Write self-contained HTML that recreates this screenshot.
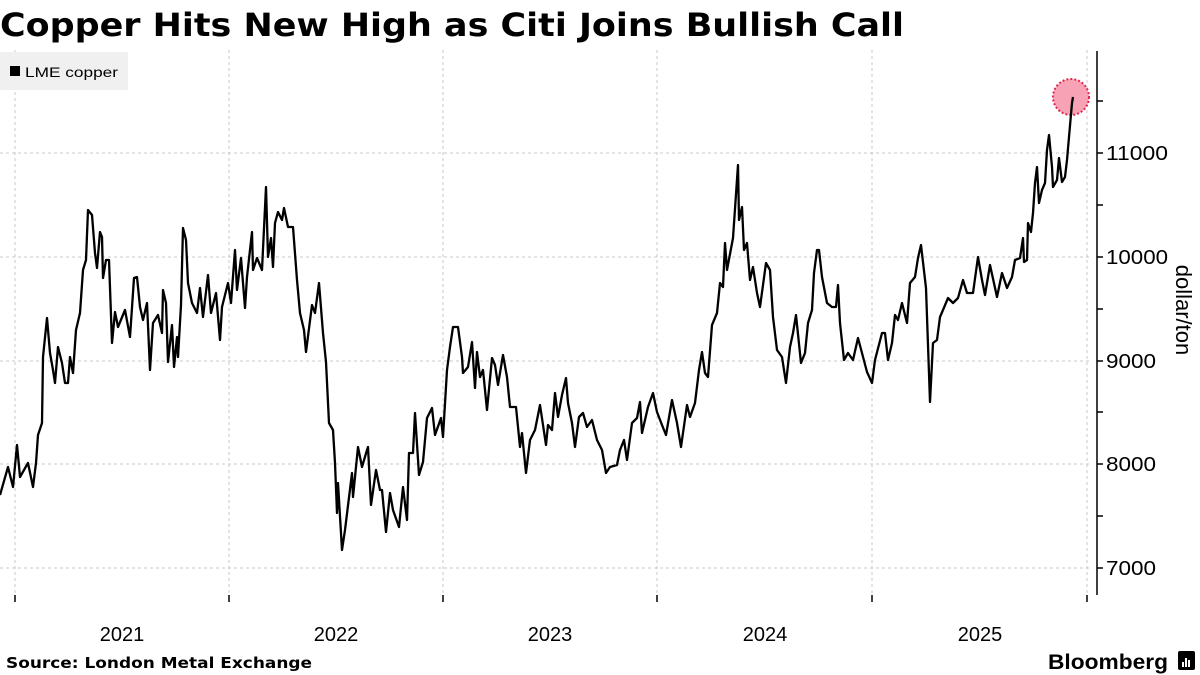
<!DOCTYPE html>
<html><head><meta charset="utf-8"><style>
body{margin:0;background:#fff;width:1200px;height:675px;overflow:hidden;font-family:"Liberation Sans",sans-serif}
</style></head><body>
<svg width="1200" height="675" xmlns="http://www.w3.org/2000/svg" style="position:absolute;left:0;top:0">
<text x="0" y="36" font-family="DejaVu Sans" font-weight="bold" font-size="32" fill="#000" textLength="904" lengthAdjust="spacingAndGlyphs">Copper Hits New High as Citi Joins Bullish Call</text>
<g stroke="#c8c8c8" stroke-dasharray="3,3" stroke-width="1">
<line x1="0" x2="1092" y1="153" y2="153"/><line x1="0" x2="1092" y1="257" y2="257"/><line x1="0" x2="1092" y1="361" y2="361"/><line x1="0" x2="1092" y1="464" y2="464"/><line x1="0" x2="1092" y1="568" y2="568"/>
<line x1="15" x2="15" y1="50" y2="595"/><line x1="229" x2="229" y1="50" y2="595"/><line x1="443" x2="443" y1="50" y2="595"/><line x1="657" x2="657" y1="50" y2="595"/><line x1="872" x2="872" y1="50" y2="595"/><line x1="1087" x2="1087" y1="50" y2="595"/>
</g>
<line x1="1097" x2="1097" y1="51" y2="595" stroke="#000" stroke-width="1.5"/>
<g stroke="#000" stroke-width="1.5">
<line x1="1097" x2="1103" y1="101" y2="101"/><line x1="1097" x2="1103" y1="153" y2="153"/><line x1="1097" x2="1103" y1="205" y2="205"/><line x1="1097" x2="1103" y1="257" y2="257"/><line x1="1097" x2="1103" y1="309" y2="309"/><line x1="1097" x2="1103" y1="361" y2="361"/><line x1="1097" x2="1103" y1="412" y2="412"/><line x1="1097" x2="1103" y1="464" y2="464"/><line x1="1097" x2="1103" y1="516" y2="516"/><line x1="1097" x2="1103" y1="568" y2="568"/>
<line x1="15" x2="15" y1="595" y2="602"/><line x1="229" x2="229" y1="595" y2="602"/><line x1="443" x2="443" y1="595" y2="602"/><line x1="657" x2="657" y1="595" y2="602"/><line x1="872" x2="872" y1="595" y2="602"/><line x1="1087" x2="1087" y1="595" y2="602"/>
</g>
<g font-family="Liberation Sans" font-size="20" fill="#000">
<text x="1106" y="160" textLength="62" lengthAdjust="spacingAndGlyphs">11000</text><text x="1106" y="264" textLength="62" lengthAdjust="spacingAndGlyphs">10000</text><text x="1106" y="368" textLength="50" lengthAdjust="spacingAndGlyphs">9000</text><text x="1106" y="471" textLength="50" lengthAdjust="spacingAndGlyphs">8000</text><text x="1106" y="575" textLength="50" lengthAdjust="spacingAndGlyphs">7000</text>
<text x="122" y="641" text-anchor="middle">2021</text><text x="336" y="641" text-anchor="middle">2022</text><text x="550" y="641" text-anchor="middle">2023</text><text x="765" y="641" text-anchor="middle">2024</text><text x="980" y="641" text-anchor="middle">2025</text>
</g>
<text transform="translate(1176,310) rotate(90)" text-anchor="middle" font-family="Liberation Sans" font-size="22" fill="#000">dollar/ton</text>
<rect x="0" y="52" width="128" height="38" fill="#f0f0f0"/>
<rect x="10" y="66" width="10" height="10" fill="#000"/>
<text x="25" y="77" font-family="Liberation Sans" font-size="14" fill="#000" textLength="93" lengthAdjust="spacingAndGlyphs">LME copper</text>
<circle cx="1071" cy="97" r="18" fill="#f7a3b5" stroke="#e0264f" stroke-width="2" stroke-dasharray="2,2"/>
<polyline fill="none" stroke="#000" stroke-width="2.3" stroke-linejoin="round" points="0,495 8,467 13,487 17,445 20,477 28,463 33,487 36,463 38,435 42,423 43,357 47,318 50,353 53,370 55,383 58,347 62,363 65,383 68,383 70,357 73,373 76,330 80,313 83,270 86,260 88,210 92,215 95,253 97,268 100,232 102,237 103,278 106,260 109,260 112,343 115,312 118,327 125,310 130,337 134,278 137,277 140,307 143,320 147,303 150,370 153,323 158,315 162,333 163,290 166,303 168,362 172,325 174,367 177,337 178,357 181,305 183,228 186,240 188,283 192,303 197,313 200,288 203,317 208,275 211,313 216,293 220,340 222,307 228,283 231,303 235,250 237,290 241,258 245,308 247,277 252,232 253,270 257,258 262,270 266,187 268,257 271,238 273,267 275,223 278,212 282,220 284,208 288,227 293,227 297,280 300,313 304,330 306,352 312,305 315,313 319,283 323,333 326,362 329,423 333,430 335,463 337,513 338,483 342,550 345,530 352,473 353,497 358,447 362,467 367,450 368,447 371,505 376,470 380,490 382,490 386,532 390,493 393,510 399,527 403,487 407,520 409,453 413,453 415,413 419,475 423,462 427,418 432,408 435,435 441,418 443,437 447,370 450,347 453,327 458,327 462,357 463,373 468,367 472,342 475,388 477,352 480,377 483,370 487,410 492,358 495,365 498,385 503,355 507,377 510,407 516,407 520,447 522,433 526,473 530,440 535,430 540,405 546,445 548,425 552,430 555,393 558,417 562,395 566,378 568,403 572,423 575,447 579,417 583,413 587,427 592,420 597,440 602,450 606,473 610,467 617,465 620,450 624,440 627,460 632,423 637,418 640,402 642,433 648,407 653,393 657,412 662,425 666,435 672,400 677,423 681,447 687,405 690,417 695,403 699,370 702,352 705,373 708,377 712,325 717,313 720,283 723,287 725,243 727,270 733,238 738,165 739,220 742,207 744,250 747,243 750,280 753,267 757,293 760,307 766,263 770,270 773,317 777,350 782,357 786,383 790,347 793,333 796,315 801,363 805,353 808,323 812,310 814,273 817,250 819,250 822,277 827,303 832,307 836,307 838,285 840,323 844,360 848,353 853,360 858,338 862,353 867,372 872,383 875,360 882,333 885,333 888,360 892,343 895,315 898,320 902,303 907,323 910,283 915,277 918,258 921,245 926,288 930,402 933,343 937,340 940,317 943,310 948,298 953,303 958,298 963,280 967,293 973,293 978,257 982,280 985,295 990,265 997,297 1002,273 1007,288 1012,277 1015,260 1020,258 1023,238 1024,262 1027,260 1028,223 1031,232 1033,213 1035,183 1037,167 1039,203 1042,190 1045,183 1047,150 1049,135 1052,167 1053,187 1057,180 1059,158 1062,182 1065,177 1067,160 1069,137 1072,103 1073,97"/>
<text x="6" y="668" font-family="DejaVu Sans" font-weight="bold" font-size="15" fill="#000" textLength="306" lengthAdjust="spacingAndGlyphs">Source: London Metal Exchange</text>
<text x="1048" y="669" font-family="Liberation Sans" font-weight="bold" font-size="21" fill="#000" textLength="120" lengthAdjust="spacingAndGlyphs">Bloomberg</text>
<rect x="1178" y="651" width="17" height="19" rx="2" fill="#000"/>
<rect x="1182" y="662" width="2" height="5" fill="#fff"/><rect x="1185" y="658" width="2" height="9" fill="#fff"/><rect x="1188" y="660" width="2" height="7" fill="#fff"/>
</svg>
</body></html>
